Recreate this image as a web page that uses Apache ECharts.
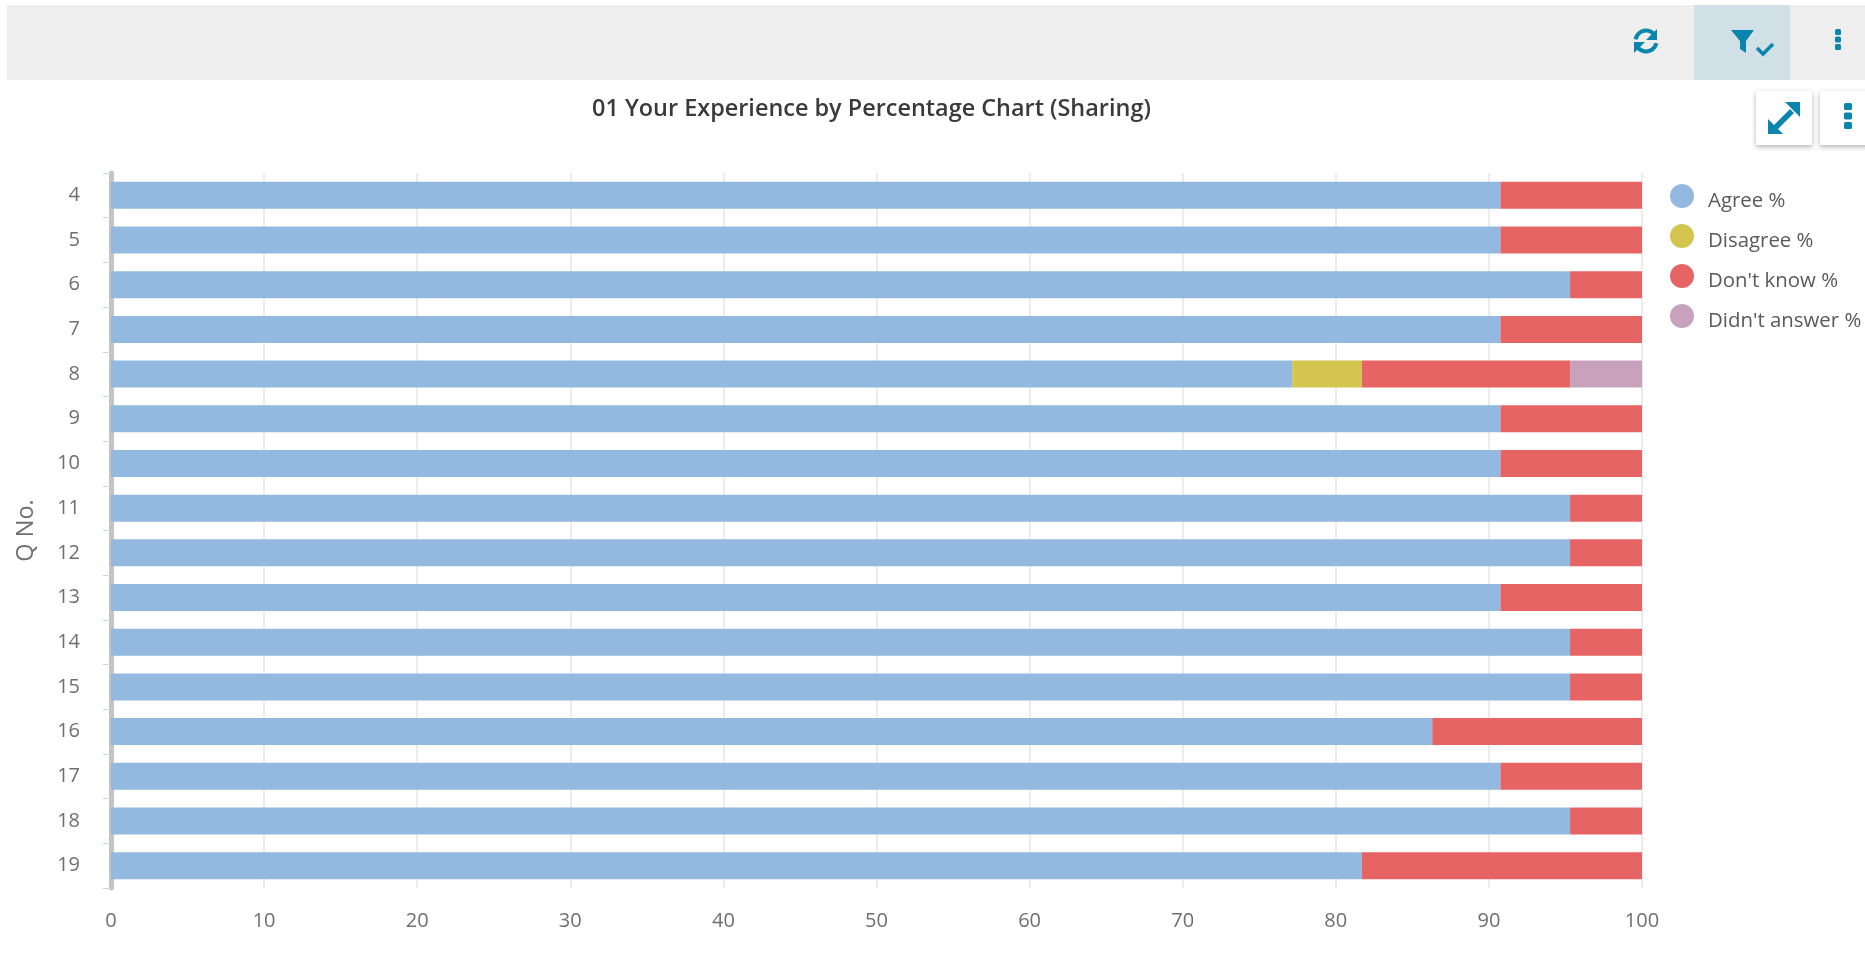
<!DOCTYPE html>
<html><head><meta charset="utf-8">
<style>html,body{margin:0;padding:0;background:#fff}#c{width:1865px;height:966px}</style>
<script src="https://cdn.jsdelivr.net/npm/echarts@6/dist/echarts.min.js"></script>
</head><body><div id="c"></div>
<script>
const titleText = "01 Your Experience by Percentage Chart (Sharing)";
const axisName = "Q No.";
const categories = ["4","5","6","7","8","9","10","11","12","13","14","15","16","17","18","19"];
const agree     = [90.75,90.75,95.3,90.75,77.15,90.75,90.75,95.3,95.3,90.75,95.3,95.3,86.3,90.75,95.3,81.7];
const disagree  = [0,0,0,0,4.55,0,0,0,0,0,0,0,0,0,0,0];
const dontKnow  = [9.25,9.25,4.7,9.25,13.6,9.25,9.25,4.7,4.7,9.25,4.7,4.7,13.7,9.25,4.7,18.3];
const noAnswer  = [0,0,0,0,4.7,0,0,0,0,0,0,0,0,0,0,0];
const names = ["Agree %","Disagree %","Don't know %","Didn't answer %"];
const colors = ["#94b9e1","#d4c54f","#e76464","#c8a2bd"];
const teal = "#0a85ad";
const font = "'Open Sans'";
const chart = echarts.init(document.getElementById('c'), null, {renderer:'canvas'});
const mk = (i,d)=>({name:names[i],type:'bar',stack:'t',data:d,barWidth:27,itemStyle:{color:colors[i]},silent:true,animation:false});
const poly = (points)=>({type:'polygon',shape:{points},style:{fill:teal},silent:true,z:5});
const line = (points,w)=>({type:'polyline',shape:{points},style:{fill:null,stroke:teal,lineWidth:w},silent:true,z:5});
const arc = (cx,cy,r,a,b,w)=>({type:'arc',shape:{cx,cy,r,startAngle:a,endAngle:b,clockwise:true},style:{fill:null,stroke:teal,lineWidth:w},silent:true,z:5});
const rect = (x,y,width,height,f,extra)=>({type:'rect',shape:{x,y,width,height},style:Object.assign({fill:f},extra||{}),silent:true,z:1});
const dots = (x,y,w,h,g)=>[0,1,2].map(i=>({type:'rect',shape:{x,y:y+i*(h+g),width:w,height:h,r:1.5},style:{fill:teal},silent:true,z:5}));
chart.setOption({
  animation:false,
  backgroundColor:'#fff',
  title:{text:titleText,left:592,top:90,padding:0,textStyle:{fontFamily:font,fontSize:23.45,fontWeight:600,color:'#3a3a3a',lineHeight:38}},
  legend:{orient:'vertical',left:1670,top:181,padding:0,itemGap:10,itemWidth:24,itemHeight:24,icon:'circle',selectedMode:false,
    formatter:n=>'{s| }\n{t|'+n+'}',
    textStyle:{fontFamily:font,fontSize:20.4,color:'#5a5a5a',padding:[0,0,0,9],
      rich:{s:{fontSize:5,lineHeight:10,height:10},t:{fontFamily:font,fontSize:20.4,color:'#5a5a5a',lineHeight:20,height:20}}},data:names},
  grid:{left:111,right:223,top:173,bottom:78,containLabel:false},
  xAxis:{type:'value',min:0,max:100,interval:10,
    axisLine:{show:false},axisTick:{show:false},
    splitLine:{show:true,lineStyle:{color:'#ececec',width:2}},
    axisLabel:{fontFamily:font,fontSize:20,color:'#6f6f6f',margin:23}},
  yAxis:{type:'category',inverse:true,data:categories,offset:1,
    name:axisName,nameLocation:'middle',nameGap:72,nameRotate:90,
    nameTextStyle:{fontFamily:font,fontSize:23.5,color:'#6f6f6f'},
    axisLine:{show:true,lineStyle:{color:'#c4c4c4',width:5}},
    axisTick:{show:true,length:8,lineStyle:{color:'#c7d5ee',width:1}},
    axisLabel:{fontFamily:font,fontSize:20,color:'#6f6f6f',margin:30,padding:[2,0,0,0]}},
  series:[mk(0,agree),mk(1,disagree),mk(2,dontKnow),mk(3,noAnswer)],
  graphic:{elements:[
    rect(7,5,1858,75,'#eeeeee'),
    rect(1694,5,96,75,'#d0e0e6'),
    rect(1756,91,56,54,'#fff',{shadowBlur:5,shadowColor:'rgba(0,0,0,0.3)',shadowOffsetY:2}),
    rect(1820,91,50,54,'#fff',{shadowBlur:5,shadowColor:'rgba(0,0,0,0.3)',shadowOffsetY:2}),
    arc(1646,41,10.5,3.3,5.6,4),
    poly([[1657,29],[1657,40],[1646,40]]),
    arc(1646,41,10.5,0.2,2.5,4),
    poly([[1634,53],[1634,42],[1645,42]]),
    poly([[1731,30],[1754,30],[1746,41],[1746,53],[1740,49],[1740,41]]),
    line([[1757,48],[1763,54],[1773,44]],3.5),
    ...dots(1835,29,6,6,1.5),
    line([[1774,129],[1792,111]],5.5),
    poly([[1800,102],[1800,117],[1785,102]]),
    poly([[1768,134],[1768,119],[1783,134]]),
    ...dots(1844,103,8,7,2.5)
  ]}
});
</script></body></html>
